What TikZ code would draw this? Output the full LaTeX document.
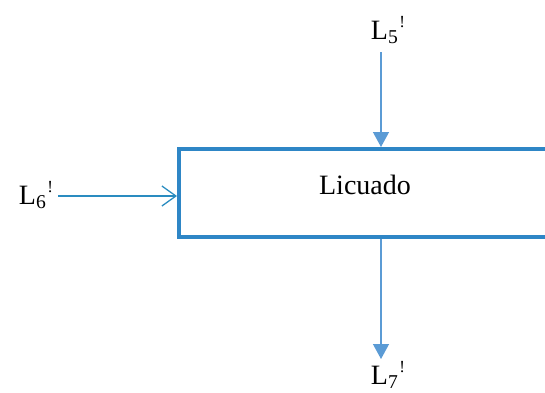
\documentclass[tikz,border=0pt]{standalone}
\usepackage{fontspec}
\setmainfont{Liberation Serif}
\usetikzlibrary{arrows.meta}
\definecolor{boxblue}{HTML}{2E86C6}
\definecolor{arrblue}{HTML}{5B9BD5}
\definecolor{inblue}{HTML}{2A8CC0}
\tikzset{
  lbl/.style={font=\fontsize{28}{30}\selectfont, inner sep=0pt},
  proc/.style={draw=boxblue, line width=4pt, inner sep=0pt},
  flowdown/.style={draw=arrblue, line width=1.3pt, -{Triangle[length=15pt,width=16pt]}},
  flowin/.style={draw=inblue, line width=1.3pt, -{Straight Barb[length=14pt,width=20pt,line width=1.3pt]}}
}
\newcommand{\lab}[1]{L\textsubscript{#1}\kern1pt\raisebox{12pt}{\fontsize{17}{18}\selectfont !}}
\begin{document}
\begin{tikzpicture}[x=1pt,y=-1pt]
\useasboundingbox (0,0) rectangle (545,392);
\begin{scope}
\clip (0,0) rectangle (545,392);
\draw[proc] (179,149) rectangle (570,237);
\end{scope}
\node[lbl] (proc) at (365,185) {Licuado};
\coordinate (ptop) at (381,147);
\coordinate (pbot) at (381,239);
\coordinate (pleft) at (177,196);
\node[lbl, anchor=base] (l5) at (388,39) {\lab{5}};
\node[lbl, anchor=base] (l6) at (36,204) {\lab{6}};
\node[lbl, anchor=base] (l7) at (388,384) {\lab{7}};
\coordinate (l5b) at (381,52);
\coordinate (l7t) at (381,359);
\coordinate (l6r) at (58,196);
\draw[flowdown] (l5b) -- (ptop);
\draw[flowdown] (pbot) -- (l7t);
\draw[flowin] (l6r) -- (pleft);
\end{tikzpicture}
\end{document}
